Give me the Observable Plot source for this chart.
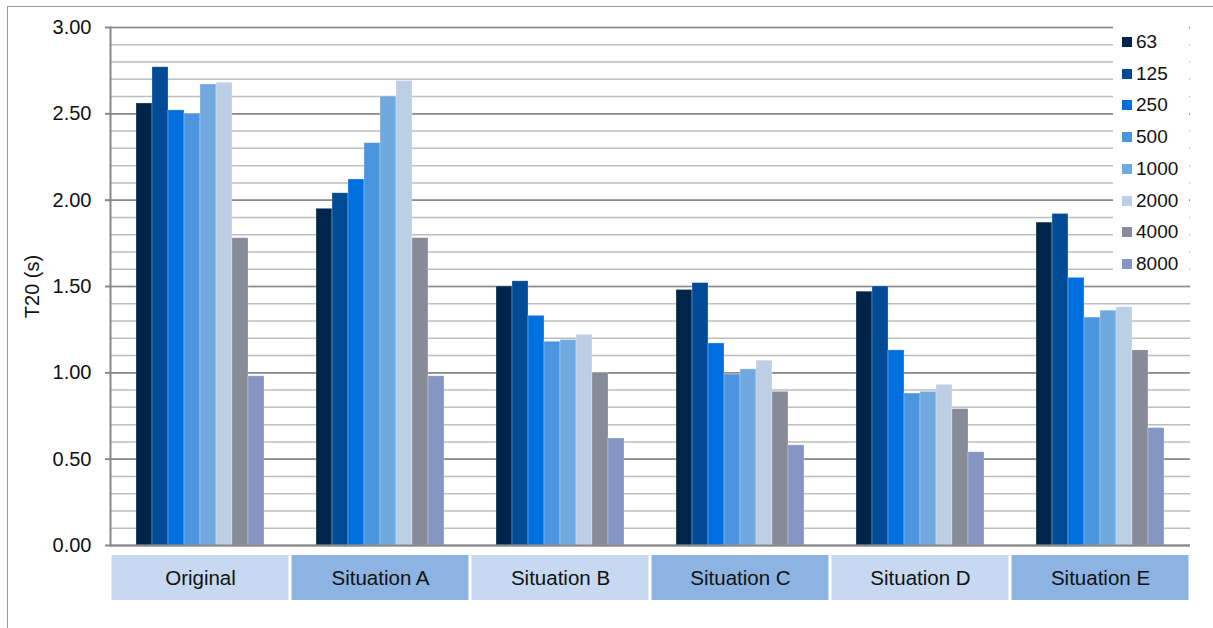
<!DOCTYPE html>
<html>
<head>
<meta charset="utf-8">
<script src="https://cdn.jsdelivr.net/npm/d3@7"></script>
<script src="https://cdn.jsdelivr.net/npm/@observablehq/plot@0.6"></script>
<style>
  html, body { margin: 0; padding: 0; background: #fff; }
  body { font-family: "Liberation Sans", Arial, sans-serif; }
  #chart { position: relative; width: 1213px; height: 628px; overflow: hidden; }
  #chart svg { display: block; }
  #border { position: absolute; left: 7px; top: 6px; right: -10px; bottom: -10px;
            border-left: 1.5px solid #9a9a9a; border-top: 1.5px solid #9a9a9a; pointer-events: none; }
  #legend { position: absolute; left: 1113px; top: 26px; width: 76px; height: 254px; background: #fff; }
  .item { position: absolute; left: 9px; height: 22px; display: flex; align-items: center;
          font-size: 19px; color: #111; white-space: nowrap; }
  .sw { width: 10px; height: 10px; margin-right: 4px; flex: none; }
</style>
</head>
<body>
<div id="chart"><div id="border"></div></div>
<script>
// Reverberation time T20 per octave band, for the original room and five treatments
const categories = ["Original", "Situation A", "Situation B", "Situation C", "Situation D", "Situation E"];
const bands = ["63", "125", "250", "500", "1000", "2000", "4000", "8000"];

const original   = [2.56, 2.77, 2.52, 2.50, 2.67, 2.68, 1.78, 0.98];
const situationA = [1.95, 2.04, 2.12, 2.33, 2.60, 2.69, 1.78, 0.98];
const situationB = [1.50, 1.53, 1.33, 1.18, 1.19, 1.22, 1.00, 0.62];
const situationC = [1.48, 1.52, 1.17, 0.99, 1.02, 1.07, 0.89, 0.58];
const situationD = [1.47, 1.50, 1.13, 0.88, 0.89, 0.93, 0.79, 0.54];
const situationE = [1.87, 1.92, 1.55, 1.32, 1.36, 1.38, 1.13, 0.68];

const yTicks = [0, 0.5, 1, 1.5, 2, 2.5, 3];

const bandColors  = ["#00244a", "#004a96", "#0070e0", "#4b95e0", "#70a8e0", "#bccfe4", "#878b97", "#8595c4"];
const stripColors = ["#c6d9f0", "#8db3e2", "#c6d9f0", "#8db3e2", "#c6d9f0", "#8db3e2"];

const series = [original, situationA, situationB, situationC, situationD, situationE];
const rows = categories.flatMap((category, i) =>
  series[i].map((t20, j) => ({category, band: bands[j], t20})));

const font = "'Liberation Sans', Arial, sans-serif";

const main = Plot.plot({
  width: 1213,
  height: 550,
  marginTop: 27,
  marginBottom: 5,
  marginLeft: 109,
  marginRight: 23,
  style: {fontFamily: font, background: "transparent", overflow: "visible"},
  fx: {domain: categories, padding: 0, axis: null},
  x: {domain: bands, paddingInner: 0, paddingOuter: 1.54, axis: null},
  y: {domain: [0, 3], axis: null},
  color: {domain: bands, range: bandColors},
  marks: [
    Plot.gridY({ticks: 30, stroke: "#bdbdbd", strokeOpacity: 1, strokeWidth: 1.5}),
    Plot.gridY(yTicks, {stroke: "#8a8a8a", strokeOpacity: 1, strokeWidth: 1.6}),
    Plot.barY(rows, {fx: "category", x: "band", y: "t20", fill: "band", inset: 0,
                     stroke: "#ffffff", strokeOpacity: 0.35, strokeWidth: 0.8}),
    Plot.ruleY([0], {stroke: "#888", strokeWidth: 2}),
    Plot.frame({anchor: "left", facetAnchor: "left", stroke: "#888", strokeWidth: 2}),
    Plot.axisY(yTicks, {
      tickFormat: d3.format(".2f"),
      tickSize: 5,
      tickPadding: 14,
      fontSize: 20,
      stroke: "#888",
      strokeWidth: 2,
      fill: "#111",
      label: "T20 (s)",
      labelAnchor: "center",
      labelArrow: "none",
      labelOffset: 86
    })
  ]
});

const strip = Plot.plot({
  width: 1213,
  height: 78,
  marginTop: 5,
  marginBottom: 28,
  marginLeft: 109,
  marginRight: 23,
  style: {fontFamily: font, background: "transparent"},
  x: {domain: categories, padding: 0, axis: null},
  color: {domain: categories, range: stripColors},
  marks: [
    Plot.cell(categories, {x: d => d, fill: d => d, insetLeft: 1.5, insetRight: 1.5}),
    Plot.text(categories, {x: d => d, frameAnchor: "middle", text: d => d, fontSize: 20.5, fill: "#111"})
  ]
});

const chart = document.getElementById("chart");
chart.insertBefore(main, chart.firstChild);
chart.insertBefore(strip, main.nextSibling);

// Vertical swatch legend on a white panel over the right end of the grid
const legend = document.createElement("div");
legend.id = "legend";
bands.forEach((b, i) => {
  const item = document.createElement("div");
  item.className = "item";
  item.style.top = (5 + i * 31.7) + "px";
  const sw = document.createElement("span");
  sw.className = "sw";
  sw.style.background = bandColors[i];
  const label = document.createElement("span");
  label.textContent = b;
  item.append(sw, label);
  legend.append(item);
});
chart.append(legend);
</script>
</body>
</html>
